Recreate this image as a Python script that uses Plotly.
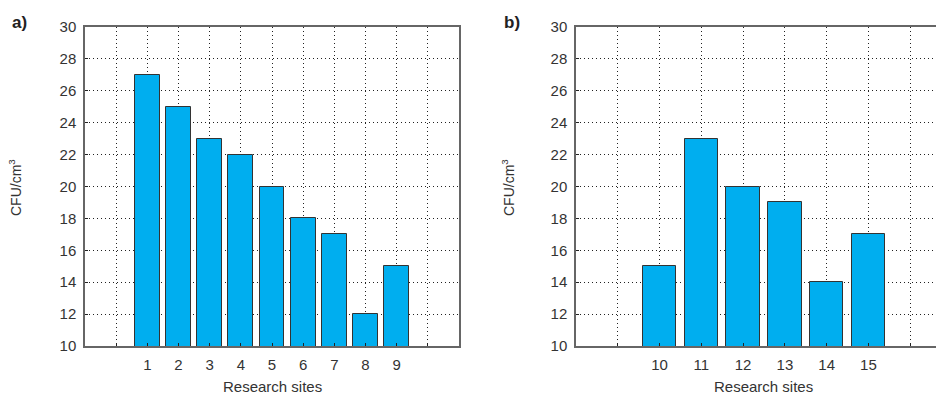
import plotly.graph_objects as go

# ---- data ----
sites_a = [1, 2, 3, 4, 5, 6, 7, 8, 9]
cfu_a = [27, 25, 23, 22, 20, 18, 17, 12, 15]
sites_b = [10, 11, 12, 13, 14, 15]
cfu_b = [15, 23, 20, 19, 14, 17]
grid_a = [0, 1, 2, 3, 4, 5, 6, 7, 8, 9, 10]
grid_a_text = ["", "1", "2", "3", "4", "5", "6", "7", "8", "9", ""]
grid_b = [9, 10, 11, 12, 13, 14, 15, 16]
grid_b_text = ["", "10", "11", "12", "13", "14", "15", ""]
y_ticks = [10, 12, 14, 16, 18, 20, 22, 24, 26, 28, 30]

W, H = 944, 395
OX, OY = 8, 8  # page body margin offset
BAR = "#00AEEF"
TXT = "#333333"
FONT = "Liberation Sans, Arial, sans-serif"

fig = go.Figure()
fig.add_trace(go.Bar(x=sites_a, y=cfu_a, width=0.8,
                     marker=dict(color=BAR, line=dict(color="#333333", width=1)),
                     xaxis="x", yaxis="y", showlegend=False))
fig.add_trace(go.Bar(x=sites_b, y=cfu_b, width=0.8,
                     marker=dict(color=BAR, line=dict(color="#333333", width=1)),
                     xaxis="x2", yaxis="y2", showlegend=False))


def px(x):
    return (x - OX) / W


def py(y):
    return (H - (y - OY)) / H


yd = [py(346), py(27)]
common_axis = dict(showline=True, linecolor="#666666", linewidth=1.5,
                   showgrid=True, gridcolor="#222222", gridwidth=1, griddash="1px,3px",
                   ticks="inside", ticklen=3, tickcolor="#222222",
                   tickfont=dict(family=FONT, size=15, color=TXT), zeroline=False,
                   fixedrange=True, automargin=False)

# panel b: ~41.8 px per unit starting at x=576 for value 8; extends past the page edge
b_right = 952
fig.update_layout(
    width=W, height=H, margin=dict(l=0, r=0, t=0, b=0, autoexpand=False),
    paper_bgcolor="white", plot_bgcolor="white", bargap=0,
    font=dict(family=FONT, color=TXT),
    xaxis=dict(domain=[px(85), px(459)], range=[-1, 11], anchor="y",
               tickmode="array", tickvals=grid_a, ticktext=grid_a_text,
               mirror=True, ticklabelstandoff=4, **common_axis),
    yaxis=dict(domain=yd, range=[10, 30], anchor="x",
               tickmode="array", tickvals=y_ticks, mirror=True,
               ticklabelstandoff=4, **common_axis),
    xaxis2=dict(domain=[px(576), px(b_right)], range=[8, 17], anchor="y2",
                tickmode="array", tickvals=grid_b, ticktext=grid_b_text,
                mirror=True, ticklabelstandoff=4, **common_axis),
    yaxis2=dict(domain=yd, range=[10, 30], anchor="x2",
                tickmode="array", tickvals=y_ticks, mirror=False,
                ticklabelstandoff=4, **common_axis),
)


def label(text, x, y, size, color=TXT, angle=0):
    return dict(text=text, x=px(x), y=py(y), xref="paper", yref="paper",
                xanchor="center", yanchor="middle", showarrow=False,
                textangle=angle, font=dict(family=FONT, size=size, color=color))


ann = [
    label("<b>a)</b>", 19, 23, 17, "#222222"),
    label("<b>b)</b>", 512, 23, 17, "#222222"),
    label("Research sites", 272, 386, 15),
    label("Research sites", 763, 386, 15),
    label("CFU/cm<sup>3</sup>", 15, 188, 14, angle=-90),
    label("CFU/cm<sup>3</sup>", 508, 188, 14, angle=-90),
]
fig.update_layout(annotations=ann)

fig.write_html("out.html")
